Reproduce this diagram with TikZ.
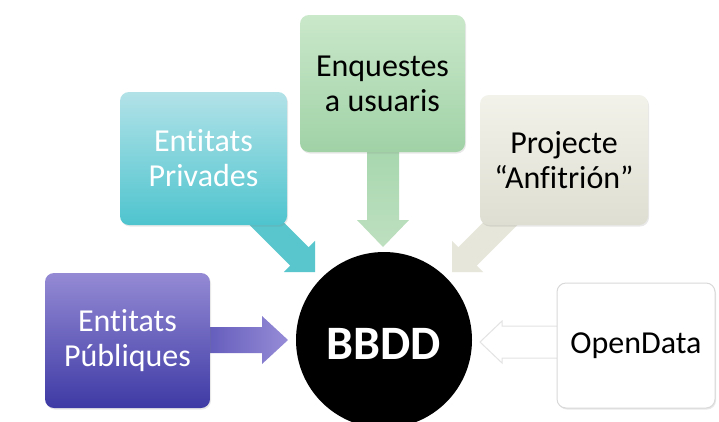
\documentclass[tikz,border=0pt]{standalone}
\usepackage{fontspec}
\setmainfont{Carlito}[Ligatures={NoCommon}]
\usetikzlibrary{calc,shadows}
\definecolor{purpTop}{RGB}{148,138,212}
\definecolor{purpBot}{RGB}{62,58,165}
\definecolor{purpArrL}{RGB}{95,88,185}
\definecolor{purpArrR}{RGB}{150,140,215}
\definecolor{tealTop}{RGB}{178,226,232}
\definecolor{tealBot}{RGB}{78,196,206}
\definecolor{tealArr}{RGB}{88,198,204}
\definecolor{greenTop}{RGB}{202,232,202}
\definecolor{greenBot}{RGB}{160,210,166}
\definecolor{greenArrT}{RGB}{165,214,172}
\definecolor{greenArrB}{RGB}{190,224,192}
\definecolor{beigeTop}{RGB}{242,242,234}
\definecolor{beigeBot}{RGB}{222,222,210}
\definecolor{beigeArr}{RGB}{230,230,218}
\newcommand\blockarrow[6]{%
  \coordinate (#1H) at ($(#2)!#5!(#1)$);
  \path[#6] ($(#1)!#3!90:(#2)$) -- ($(#1H)!#3!90:(#2)$) -- ($(#1H)!#4!90:(#2)$)
    -- (#2) -- ($(#1H)!#4!-90:(#2)$) -- ($(#1H)!#3!-90:(#2)$) -- ($(#1)!#3!-90:(#2)$) -- cycle;
}
\tikzset{
  box/.style={rounded corners=9pt, align=center, inner sep=0pt,
    font=\fontsize{32}{35}\selectfont,
    drop shadow={opacity=0.18, shadow xshift=1pt, shadow yshift=-1.5pt}},
}
\begin{document}
\begin{tikzpicture}[x=1pt,y=-1pt]
\useasboundingbox (0,0) rectangle (719,421);
\clip (0,0) rectangle (719,421);
\fill[white] (0,0) rectangle (719,421);

% arrow coordinates
\coordinate (tealS) at (230,187);  \coordinate (tealT) at (315,272);
\coordinate (beigeS) at (537,187); \coordinate (beigeT) at (452,272);
\coordinate (greenS) at (383,140); \coordinate (greenT) at (383,247);
\coordinate (purpS) at (200,340);  \coordinate (purpT) at (288,340);
\coordinate (openS) at (570,342);  \coordinate (openT) at (480,342);

% arrows
\blockarrow{tealS}{tealT}{13pt}{22pt}{22pt}{fill=tealArr}
\blockarrow{beigeS}{beigeT}{13pt}{22pt}{22pt}{fill=beigeArr}
\blockarrow{greenS}{greenT}{16pt}{26pt}{27pt}{top color=greenArrT, bottom color=greenArrB}
\blockarrow{purpS}{purpT}{13pt}{24pt}{26pt}{left color=purpArrL, right color=purpArrR}
\blockarrow{openS}{openT}{16pt}{21pt}{22pt}{fill=white, draw=gray!22, line width=1pt}

% boxes
\node[box, top color=tealTop, bottom color=tealBot, text=white,
  minimum width=167pt, minimum height=133pt] (priv) at (203.5,158.5) {Entitats\\Privades};
\node[box, top color=greenTop, bottom color=greenBot, text=black,
  minimum width=165pt, minimum height=137pt] (enq) at (382.5,83.5) {Enquestes\\a usuaris};
\node[box, top color=beigeTop, bottom color=beigeBot, text=black,
  minimum width=168pt, minimum height=130pt] (proj) at (564,160) {Projecte\\“Anfitrión”};
\node[box, top color=purpTop, bottom color=purpBot, text=white,
  minimum width=165pt, minimum height=135pt] (pub) at (127.5,340.5) {Entitats\\Públiques};
\node[box, fill=white, draw=gray!30, line width=1pt, text=black,
  minimum width=158pt, minimum height=125pt] (open) at (636,345.5) {OpenData};

% central circle
\node[circle, fill=black, minimum size=176pt, inner sep=0pt] (bbdd) at (384,340) {};
\node[text=white, font=\fontsize{48}{50}\selectfont\bfseries] (bbddt) at (383.5,344) {BBDD};
\end{tikzpicture}
\end{document}
